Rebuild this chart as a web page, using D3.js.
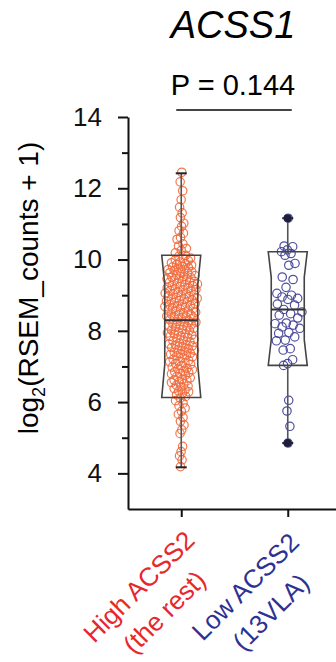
<!DOCTYPE html>
<html>
<head>
<meta charset="utf-8">
<script src="https://cdn.jsdelivr.net/npm/d3@7"></script>
<style>
  body { margin: 0; background: #fff; }
  text { font-family: "Liberation Sans", Arial, sans-serif; }
</style>
</head>
<body>
<script>
"use strict";

// ---- data ----
const geneName = "ACSS1";
const pLabel = "P = 0.144";
const groupNames = ["high", "low"];
const groupLabels = [["High ACSS2", "(the rest)"], ["Low ACSS2", "(13VLA)"]];
const majorTicks = [4, 6, 8, 10, 12, 14];
const minorTicks = [5, 7, 9, 11, 13];

// box summaries (whisker low/high, quartiles, median, notch)
const whiskerLo = [4.17, 4.85];
const q1 = [6.13, 7.03];
const notchLo = [7.05, 7.75];
const median = [8.3, 8.6];
const notchHi = [9.3, 9.5];
const q3 = [10.12, 10.22];
const whiskerHi = [12.42, 11.16];

const highValues = [
  12.45, 12.18, 11.93, 11.68, 11.47, 11.31, 11.18, 11.02, 10.93, 10.81, 10.74, 10.62, 10.57, 10.44, 10.38, 10.31, 10.26, 10.19,
  10.12, 10.09, 10.04, 10.03, 9.99, 9.97, 9.93, 9.91, 9.88, 9.86, 9.84, 9.81, 9.79, 9.77, 9.74, 9.72, 9.71, 9.69, 9.66, 9.64,
  9.63, 9.61, 9.57, 9.55, 9.53, 9.51, 9.49, 9.47, 9.46, 9.44, 9.42, 9.39, 9.38, 9.36, 9.35, 9.33, 9.31, 9.29, 9.27, 9.26,
  9.24, 9.21, 9.19, 9.17, 9.16, 9.14, 9.13, 9.11, 9.08, 9.06, 9.04, 9.03, 9.01, 8.98, 8.97, 8.96, 8.93, 8.91, 8.89, 8.88,
  8.86, 8.85, 8.83, 8.81, 8.79, 8.76, 8.74, 8.73, 8.71, 8.69, 8.68, 8.66, 8.63, 8.62, 8.6, 8.58, 8.55, 8.54, 8.52, 8.49,
  8.47, 8.45, 8.44, 8.41, 8.39, 8.38, 8.36, 8.33, 8.31, 8.28, 8.26, 8.24, 8.22, 8.19, 8.17, 8.15, 8.13, 8.11, 8.1, 8.07,
  8.04, 8.02, 8.01, 7.97, 7.94, 7.92, 7.91, 7.88, 7.86, 7.85, 7.82, 7.79, 7.76, 7.74, 7.72, 7.69, 7.66, 7.63, 7.61, 7.6,
  7.58, 7.56, 7.53, 7.5, 7.47, 7.45, 7.43, 7.4, 7.37, 7.36, 7.34, 7.32, 7.3, 7.27, 7.24, 7.2, 7.17, 7.15, 7.13, 7.1,
  7.08, 7.06, 7.02, 6.98, 6.95, 6.93, 6.91, 6.87, 6.85, 6.83, 6.81, 6.79, 6.76, 6.72, 6.68, 6.64, 6.62, 6.6, 6.57, 6.55,
  6.51, 6.47, 6.45, 6.43, 6.38, 6.34, 6.31, 6.29, 6.25, 6.2, 6.16,
  6.11, 6.04, 5.97, 5.9, 5.83, 5.74, 5.66, 5.57, 5.46, 5.36, 5.22, 5.12, 4.76, 4.61, 4.49, 4.38, 4.19
];

const lowValues = [
  11.16, 10.38, 10.36, 10.27, 10.22, 10.17, 10.12, 9.89, 9.84, 9.51, 9.44, 9.22, 9.05, 9.0, 8.95, 8.91, 8.88,
  8.75, 8.72, 8.6, 8.53, 8.48, 8.44, 8.36, 8.22, 8.2, 8.16, 8.11, 8.07, 7.95, 7.93, 7.83, 7.74, 7.72, 7.5, 7.46,
  7.19, 7.08, 7.03, 6.05, 5.75, 5.32, 4.85
];
const groupValues = [highValues, lowValues];

// ---- layout ----
const W = 336, H = 662;
const pointColor = ["#ef6a3c", "#3d3d95"];
const labelColor = ["#e8262d", "#2e3192"];

const svg = d3.select("body").append("svg")
  .attr("width", W)
  .attr("height", H);

const y = d3.scaleLinear().domain([3, 14]).range([509, 117]);
const x = d3.scalePoint().domain(groupNames).range([128, 341]).padding(0.5);

// title + p value
svg.append("text")
  .attr("x", 233).attr("y", 38)
  .attr("text-anchor", "middle")
  .style("font-size", "38px")
  .style("font-style", "italic")
  .text(geneName);

svg.append("text")
  .attr("x", 233).attr("y", 95)
  .attr("text-anchor", "middle")
  .style("font-size", "29px")
  .text(pLabel);

svg.append("line")
  .attr("x1", x(groupNames[0]) - 5).attr("x2", x(groupNames[1]) + 4)
  .attr("y1", 110).attr("y2", 110)
  .attr("stroke", "#444").attr("stroke-width", 2);

// y axis
const yAxisG = svg.append("g")
  .attr("transform", "translate(128,0)")
  .call(d3.axisLeft(y).tickValues(majorTicks).tickSize(10).tickSizeOuter(0).tickPadding(16));
yAxisG.selectAll("text").style("font-size", "26px").attr("fill", "#111");

svg.append("g")
  .attr("transform", "translate(128,0)")
  .call(d3.axisLeft(y).tickValues(minorTicks).tickSize(6).tickFormat(""))
  .call(g => g.select(".domain").remove());

// x axis
svg.append("g")
  .attr("transform", "translate(0,509)")
  .call(d3.axisBottom(x).tickSize(8).tickSizeOuter(0).tickFormat(""));

svg.selectAll(".domain, .tick line")
  .attr("stroke", "#111")
  .attr("stroke-width", 2);

// y label
const yLab = svg.append("text")
  .attr("transform", "translate(38,288) rotate(-90)")
  .attr("text-anchor", "middle")
  .style("font-size", "28px");
yLab.append("tspan").text("log");
yLab.append("tspan").attr("dy", 7).style("font-size", "18px").text("2");
yLab.append("tspan").attr("dy", -7).text("(RSEM_counts + 1)");

// x labels, rotated
groupNames.forEach(function (g, i) {
  const t = svg.append("text")
    .attr("transform", "translate(" + (x(g) - 36) + "," + (509 + 84) + ") rotate(-45)")
    .attr("text-anchor", "middle")
    .attr("fill", labelColor[i])
    .style("font-size", "26px");
  groupLabels[i].forEach(function (line, j) {
    t.append("tspan").attr("x", 0).attr("y", j * 36).text(line);
  });
});

// density-scaled horizontal spread (golden-ratio sequence, no randomness)
function spread(values, bw, maxHalf) {
  const dens = values.map(v => d3.sum(values, w => Math.exp(-0.5 * ((v - w) / bw) ** 2)));
  const maxD = d3.max(dens);
  return values.map(function (v, i) {
    const u = (((i + 1) * 0.6180339887) % 1) * 2 - 1;
    return u * maxHalf * Math.max(0.12, dens[i] / maxD);
  });
}

const boxHalf = 19.5;
const inset = 3;

groupNames.forEach(function (g, i) {
  const cx = x(g);
  const vals = groupValues[i];
  const offs = spread(vals, i === 0 ? 0.35 : 0.45, i === 0 ? 17 : 15);

  // points
  svg.append("g").selectAll("circle")
    .data(vals)
    .join("circle")
    .attr("cx", (d, k) => cx + offs[k])
    .attr("cy", d => y(d))
    .attr("r", 4.2)
    .attr("fill", "none")
    .attr("stroke", pointColor[i])
    .attr("stroke-width", 1.2)
    .attr("stroke-opacity", 0.9);

  // whiskers
  const wg = svg.append("g").attr("stroke", "#555").attr("stroke-width", 1.6);
  wg.append("line").attr("x1", cx).attr("x2", cx).attr("y1", y(q3[i])).attr("y2", y(whiskerHi[i]));
  wg.append("line").attr("x1", cx).attr("x2", cx).attr("y1", y(q1[i])).attr("y2", y(whiskerLo[i]));
  [whiskerLo[i], whiskerHi[i]].forEach(function (v) {
    wg.append("line")
      .attr("x1", cx - 5.5).attr("x2", cx + 5.5)
      .attr("y1", y(v)).attr("y2", y(v))
      .attr("stroke", "#222").attr("stroke-width", 2);
    if (i === 1) {
      svg.append("circle")
        .attr("cx", cx).attr("cy", y(v)).attr("r", 4)
        .attr("fill", "#1e1e3a");
    }
  });

  // notched box
  const pts = [
    [cx - boxHalf, y(q3[i])], [cx + boxHalf, y(q3[i])],
    [cx + boxHalf - inset, y(notchHi[i])], [cx + boxHalf - inset, y(notchLo[i])],
    [cx + boxHalf, y(q1[i])], [cx - boxHalf, y(q1[i])],
    [cx - boxHalf + inset, y(notchLo[i])], [cx - boxHalf + inset, y(notchHi[i])]
  ];
  svg.append("path")
    .attr("d", d3.line()(pts) + "Z")
    .attr("fill", "none")
    .attr("stroke", "#444")
    .attr("stroke-width", 1.6);

  svg.append("line")
    .attr("x1", cx - boxHalf + inset).attr("x2", cx + boxHalf - inset)
    .attr("y1", y(median[i])).attr("y2", y(median[i]))
    .attr("stroke", "#333")
    .attr("stroke-width", 2);
});
</script>
</body>
</html>
